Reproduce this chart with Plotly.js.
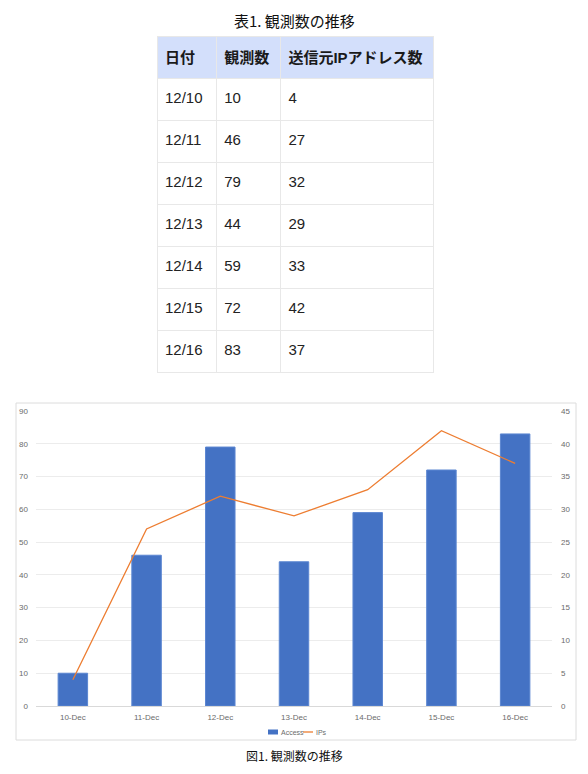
<!DOCTYPE html>
<html>
<head>
<meta charset="utf-8">
<script src="https://cdn.plot.ly/plotly-3.0.1.min.js"></script>
<style>
  html, body { margin: 0; padding: 0; background: #fff; }
  #fig { width: 588px; height: 774px; }
</style>
</head>
<body>
<div id="fig"></div>
<script>
// Daily observation counts and the number of distinct source IPs
const dates = ['12/10', '12/11', '12/12', '12/13', '12/14', '12/15', '12/16'];
const access = [10, 46, 79, 44, 59, 72, 83];
const ips = [4, 27, 32, 29, 33, 42, 37];
const chartDates = ['10-Dec', '11-Dec', '12-Dec', '13-Dec', '14-Dec', '15-Dec', '16-Dec'];
const headers = ['日付', '観測数', '送信元IPアドレス数'];
const seriesNames = ['Access', 'IPs'];

const W = 588, H = 774;
const px = v => v / W;           // pixel -> paper x
const py = v => 1 - v / H;       // pixel -> paper y

const jp = '"Noto Sans CJK JP", "Liberation Sans", sans-serif';
const tableFont = '"Liberation Sans", Arial, "Noto Sans CJK JP", sans-serif';
const tickFont = { family: '"Liberation Sans", "Open Sans", sans-serif', size: 8, color: '#6b6b6b' };

// Table cells are top-aligned; a blank spacer line (sized by the base font)
// pushes the visible text down towards the middle of each 42px row.
const HEADER_BASE = 8.8;
const CELL_BASE = 8.0;
const centred = (s, bold) =>
  '\u00a0<br><span style="font-size:15px">' + (bold ? '<b>' + s + '</b>' : s) + '</span>';

const table = {
  type: 'table',
  domain: { x: [px(157), px(433)], y: [py(376), py(36)] },
  columnwidth: [59, 64, 152],
  header: {
    values: headers.map(h => centred(h, true)),
    align: 'left',
    height: 42,
    fill: { color: '#d3dffb' },
    line: { color: '#e8e8e8', width: 1 },
    font: { family: tableFont, size: HEADER_BASE, color: '#1a1a1a' }
  },
  cells: {
    values: [dates.map(d => centred(d)), access.map(v => centred(String(v))), ips.map(v => centred(String(v)))],
    align: 'left',
    height: 42,
    fill: { color: '#ffffff' },
    line: { color: '#e8e8e8', width: 1 },
    font: { family: tableFont, size: CELL_BASE, color: '#222222' }
  }
};

const bars = {
  type: 'bar',
  name: seriesNames[0],
  x: chartDates,
  y: access,
  width: 0.4,
  marker: { color: '#4472c4', line: { color: '#5b86d1', width: 1 } },
  showlegend: false,
  xaxis: 'x', yaxis: 'y'
};

const line = {
  type: 'scatter',
  mode: 'lines',
  name: seriesNames[1],
  x: chartDates,
  y: ips,
  line: { color: '#ed7d31', width: 1.3 },
  showlegend: false,
  xaxis: 'x', yaxis: 'y2'
};

// Compact legend under the x axis
const legY = py(732);
const legendShapes = [
  { type: 'rect', xref: 'paper', yref: 'paper',
    x0: px(268), x1: px(278), y0: py(734.5), y1: py(729.5),
    fillcolor: '#4472c4', line: { width: 0 } },
  { type: 'line', xref: 'paper', yref: 'paper',
    x0: px(303), x1: px(313), y0: legY, y1: legY,
    line: { color: '#ed7d31', width: 1.3 } }
];
const legendLabels = [
  { text: seriesNames[0], x: px(279) },
  { text: seriesNames[1], x: px(314) }
].map(l => ({
  text: l.text, xref: 'paper', yref: 'paper', x: l.x, y: legY,
  xanchor: 'left', yanchor: 'middle', showarrow: false,
  font: { family: tickFont.family, size: 7, color: '#6b6b6b' }
}));

const layout = {
  width: W, height: H,
  margin: { l: 0, r: 0, t: 0, b: 0 },
  paper_bgcolor: '#ffffff',
  plot_bgcolor: 'rgba(0,0,0,0)',
  showlegend: false,
  xaxis: {
    domain: [px(36), px(552)],
    anchor: 'y',
    type: 'category',
    tickfont: tickFont,
    showgrid: false,
    showline: true,
    linecolor: '#d9d9d9',
    linewidth: 1,
    ticks: '',
    ticklabelstandoff: 3,
    fixedrange: true
  },
  yaxis: {
    domain: [py(706), py(411)],
    range: [0, 90],
    dtick: 10,
    tickfont: tickFont,
    gridcolor: '#ececec',
    gridwidth: 1,
    zeroline: false,
    showline: false,
    ticklabelstandoff: 7,
    fixedrange: true
  },
  yaxis2: {
    overlaying: 'y',
    side: 'right',
    anchor: 'x',
    range: [0, 45],
    dtick: 5,
    tickfont: tickFont,
    showgrid: false,
    zeroline: false,
    showline: false,
    ticklabelstandoff: 8,
    fixedrange: true
  },
  shapes: [
    {
      type: 'rect', xref: 'paper', yref: 'paper',
      x0: px(16), x1: px(576), y0: py(740), y1: py(403),
      line: { color: '#dcdcdc', width: 1 },
      fillcolor: 'rgba(0,0,0,0)', layer: 'below'
    }
  ].concat(legendShapes),
  annotations: [
    {
      text: '表1. 観測数の推移',
      xref: 'paper', yref: 'paper',
      x: px(295), y: py(20), xanchor: 'center', yanchor: 'middle',
      showarrow: false,
      font: { family: jp, size: 15, color: '#111111' }
    },
    {
      text: '図1. 観測数の推移',
      xref: 'paper', yref: 'paper',
      x: px(295), y: py(755), xanchor: 'center', yanchor: 'middle',
      showarrow: false,
      font: { family: jp, size: 12, color: '#111111' }
    }
  ].concat(legendLabels)
};

Plotly.newPlot('fig', [table, bars, line], layout, { displayModeBar: false, staticPlot: true });
</script>
</body>
</html>
